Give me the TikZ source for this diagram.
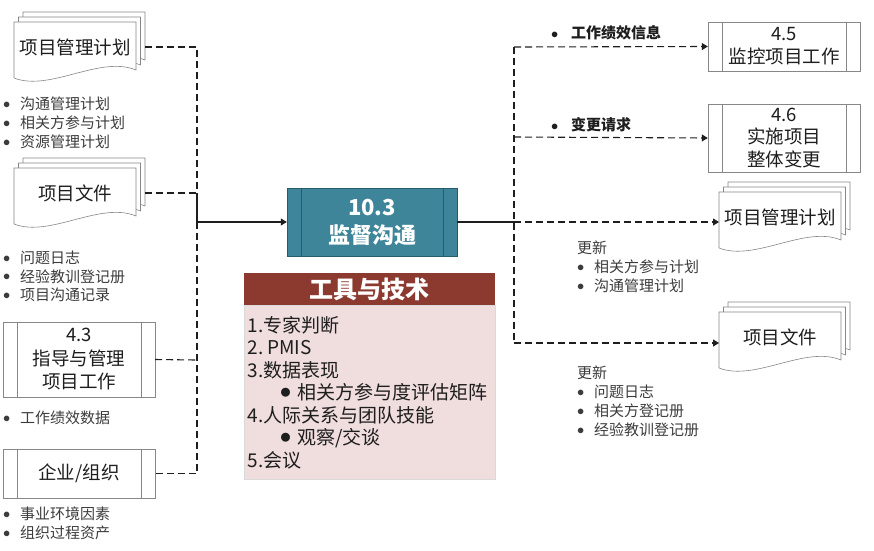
\documentclass[tikz,border=0pt]{standalone}
\usepackage{fontspec}
\setmainfont{Noto Sans CJK SC}
\usetikzlibrary{positioning, arrows.meta, calc}
\definecolor{cProc}{RGB}{62, 133, 153}
\definecolor{cProcDark}{RGB}{38, 92, 108}
\definecolor{cTool}{RGB}{140, 57, 48}
\definecolor{cToolBg}{RGB}{240, 221, 221}
\definecolor{cLine}{RGB}{135, 135, 135}
\definecolor{cText}{RGB}{30, 30, 30}
\definecolor{cNote}{RGB}{60, 60, 60}

\begin{document}
\begin{tikzpicture}[
    x=1pt, y=-1pt,
    font=\fontsize{18.5}{23}\selectfont,
    procbox/.style={draw=cLine, fill=white, minimum width=152pt, align=center, inner sep=0pt, text=cText},
    sheet/.style={draw=cLine, fill=white, line width=0.6pt},
    doctext/.style={inner sep=0pt, text=cText},
    flow/.style={dash pattern=on 7pt off 4pt, line width=1.1pt, draw=cText},
    solidflow/.style={line width=1.1pt, draw=cText},
    tip/.style={-{Triangle[length=6pt, width=7pt]}},
    notes/.style={anchor=north west, align=left, inner sep=0pt, font=\fontsize{15}{18.8}\selectfont, text=cNote},
    outlabel/.style={anchor=west, inner sep=0pt, font=\fontsize{15}{18}\selectfont\bfseries, text=cText}
]

    % --- Makro: Dokumentenstapel (drei Blaetter mit Wellenkante) ---
    \newcommand{\docStack}[4]{
        \begin{scope}[shift={(#2,#3)}]
            \foreach \dx/\dy in {9/-10, 4.5/-5, 0/0}
                \draw[sheet, shift={(\dx,\dy)}] (-61,-25) -- (61,-25) -- (61,23)
                    .. controls (25,8) and (-25,45) .. (-61,31) -- cycle;
        \end{scope}
        \node[doctext] (#1) at (#2,#3) {#4};
        \coordinate (#1_r) at ($(#2,#3)+(70,0)$);
        \coordinate (#1_l) at ($(#2,#3)+(-61,6)$);
    }

    % --- Makro: innere Linien eines Prozesskastens ---
    \newcommand{\procLines}[2]{
        \draw[#2] ([xshift=14pt]#1.north west) -- ([xshift=14pt]#1.south west);
        \draw[#2] ([xshift=-14pt]#1.north east) -- ([xshift=-14pt]#1.south east);
    }

    \newcommand{\bul}{\makebox[17pt][l]{\raisebox{0.08em}{$\bullet$}}}
    \newcommand{\bigbul}{\hspace*{33pt}\makebox[17pt][l]{\raisebox{3pt}{\fontsize{10}{10}\selectfont ●}}}

    \useasboundingbox (0,0) rectangle (874,550);

    % 1. Eingaenge links
    \docStack{pmp_in}{75}{47}{项目管理计划}
    \node[notes] (pmp_in_notes) at (3,97) {\bul 沟通管理计划\\\bul 相关方参与计划\\\bul 资源管理计划};

    \docStack{pd_in}{75}{193}{项目文件}
    \node[notes] (pd_in_notes) at (3,250.5) {\bul 问题日志\\\bul 经验教训登记册\\\bul 项目沟通记录};

    \node[procbox, minimum height=75pt] (p43) at (79,359.5) {4.3\\[1pt]指导与管理\\项目工作};
    \procLines{p43}{cLine}
    \node[notes] (p43_notes) at (3,411) {\bul 工作绩效数据};

    \node[procbox, minimum height=49pt] (org) at (79,473.5) {企业/组织};
    \procLines{org}{cLine}
    \node[notes] (org_notes) at (3,507) {\bul 事业环境因素\\\bul 组织过程资产};

    % Sammelleitung links
    \coordinate (lb_top) at (197,47);
    \coordinate (lb_pd) at (197,193);
    \coordinate (lb_mid) at (197,222);
    \coordinate (lb_p43) at (197,360);
    \coordinate (lb_bot) at (197,473.5);

    \draw[flow] (pmp_in_r) -- (lb_top) -- (lb_pd);
    \draw[solidflow] (lb_pd) -- (lb_mid);
    \draw[flow] (lb_mid) -- (lb_bot) -- (org.east);
    \draw[flow] (pd_in_r) -- (lb_pd);
    \draw[flow] (p43.east) -- (lb_p43);

    % 2. Prozess in der Mitte
    \node[draw=cProcDark, fill=cProc, minimum width=170pt, minimum height=68pt, align=center, inner sep=0pt,
          text=white, font=\fontsize{22}{28}\selectfont\bfseries] (mc) at (372,222) {10.3\\监督沟通};
    \procLines{mc}{cProcDark}
    \draw[solidflow, tip] (lb_mid) -- (mc.west);

    % Werkzeuge und Techniken
    \node[fill=cTool, minimum width=251pt, minimum height=32pt, inner sep=0pt, text=white,
          font=\fontsize{24}{28}\selectfont\bfseries] (tt_head) at (369.5,289) {工具与技术};
    \node[draw=black!15, fill=cToolBg, text width=244pt, inner xsep=3.5pt, inner ysep=0pt, minimum height=174pt,
          align=left, text=cText, font=\fontsize{19}{22.5}\selectfont, below=0pt of tt_head] (tt_body)
          {1.专家判断\\2.\hspace{4pt}PMIS\\3.数据表现\\\bigbul 相关方参与度评估矩阵\\4.人际关系与团队技能\\\bigbul 观察/交谈\\5.会议};

    % 3. Ausgaenge rechts
    \node[procbox, minimum height=49pt] (p45) at (784,46.5) {4.5\\监控项目工作};
    \procLines{p45}{cLine}
    \node[procbox, minimum height=68pt, font=\fontsize{18.5}{22.5}\selectfont] (p46) at (784,138) {4.6\\实施项目\\整体变更};
    \procLines{p46}{cLine}
    \docStack{pmp_out}{780}{217}{项目管理计划}
    \docStack{pd_out}{780}{337}{项目文件}

    \node[outlabel] (wpi) at (551,33) {\makebox[20pt][l]{$\bullet$}工作绩效信息};
    \node[outlabel] (cr) at (551,125) {\makebox[20pt][l]{$\bullet$}变更请求};
    \node[notes] (pmp_out_notes) at (577,241) {更新\\\bul 相关方参与计划\\\bul 沟通管理计划};
    \node[notes] (pd_out_notes) at (577,366) {更新\\\bul 问题日志\\\bul 相关方登记册\\\bul 经验教训登记册};

    % Sammelleitung rechts
    \coordinate (rb_top) at (514,47);
    \coordinate (rb_cr) at (514,137);
    \coordinate (rb_mid) at (mc.east -| rb_top);
    \coordinate (rb_bot) at (514,343);

    \draw[solidflow] (mc.east) -- (rb_mid);
    \draw[flow] (rb_top) -- (rb_bot);
    \draw[flow, tip] (rb_top) -- (p45.west);
    \draw[flow, tip] (rb_cr) -- (p46.west);
    \draw[flow, tip] (rb_mid) -- (rb_mid -| pmp_out_l);
    \draw[flow, tip] (rb_bot) -- (rb_bot -| pd_out_l);

\end{tikzpicture}
\end{document}
